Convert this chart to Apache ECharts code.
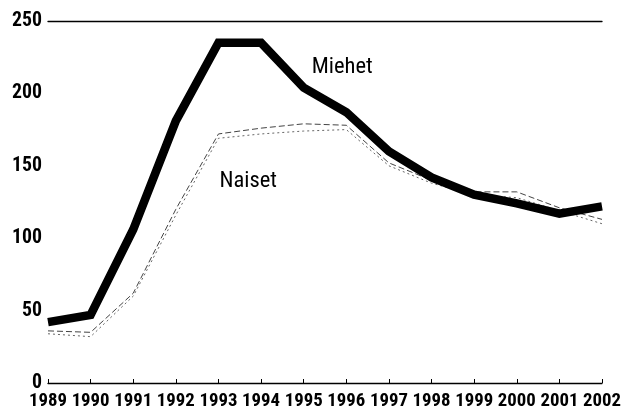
<!DOCTYPE html>
<html><head><meta charset="utf-8">
<script src="https://cdn.jsdelivr.net/npm/echarts@6/dist/echarts.min.js"></script>
<style>html,body{margin:0;padding:0;background:#fff}#c{width:633px;height:412px}</style>
</head><body><div id="c"></div>
<script>
var years = ['1989','1990','1991','1992','1993','1994','1995','1996','1997','1998','1999','2000','2001','2002'];
var miehet = [42, 47, 106, 181, 235, 235, 204, 187, 160, 142, 130, 124, 117, 122];
var naisetA = [36, 35, 62, 120, 172, 176, 179, 178, 152, 140, 132, 132, 121, 113];
var naisetB = [34, 32, 60, 116, 169, 172, 174, 175, 150, 138, 130, 128, 119, 110];
var yTicks = [0, 50, 100, 150, 200, 250];

// pick a narrow font if one is installed
var ctx = document.createElement('canvas').getContext('2d');
function w(font, txt) { ctx.font = font; return ctx.measureText(txt).width; }
var candidates = ['Liberation Sans Narrow', 'Roboto Condensed', 'Open Sans Condensed', 'DejaVu Sans Condensed', 'Liberation Sans'];
var FAM = 'Liberation Sans';
for (var i = 0; i < candidates.length; i++) {
  var c = candidates[i];
  if (w("40px '" + c + "', monospace", 'abcdMWi1989') !== w('40px monospace', 'abcdMWi1989')) { FAM = c; break; }
}
var FONT = "'" + FAM + "', sans-serif";
var xSize = Math.min(22, 20 * 38 / w('bold 20px ' + FONT, '1989'));
var ySize = Math.min(22, 20 * 30 / w('bold 20px ' + FONT, '250'));
var tSize = Math.min(26, 24 * 61 / w('24px ' + FONT, 'Miehet'));

var chart = echarts.init(document.getElementById('c'), null, {renderer: 'canvas'});
chart.setOption({
  animation: false,
  backgroundColor: '#fff',
  grid: {left: 48, right: 31, top: 21, bottom: 29, containLabel: false},
  xAxis: [{
    type: 'category', data: years, boundaryGap: false, position: 'bottom',
    axisLine: {show: true, lineStyle: {color: '#000', width: 1.3}},
    axisTick: {show: true, inside: true, length: 4, lineStyle: {color: '#000'}},
    axisLabel: {color: '#000', fontFamily: FONT, fontWeight: 'bold', fontSize: xSize, margin: 9, interval: 0}
  }, {
    type: 'category', data: years, boundaryGap: false, position: 'top',
    axisLine: {show: true, lineStyle: {color: '#000', width: 1.3}},
    axisTick: {show: false}, axisLabel: {show: false}
  }],
  yAxis: {
    type: 'value', min: yTicks[0], max: yTicks[yTicks.length - 1], interval: 50,
    axisLine: {show: false}, axisTick: {show: false}, splitLine: {show: false},
    axisLabel: {color: '#000', fontFamily: FONT, fontWeight: 'bold', fontSize: ySize, margin: 6}
  },
  series: [{
    name: 'Naiset', type: 'line', data: naisetA, symbol: 'none',
    lineStyle: {color: '#444', width: 1, type: [6, 3]}
  }, {
    name: 'Naiset2', type: 'line', data: naisetB, symbol: 'none',
    lineStyle: {color: '#666', width: 1, type: [2, 3]}
  }, {
    name: 'Miehet', type: 'line', data: miehet, symbol: 'none',
    lineStyle: {color: '#000', width: 8.5, join: 'miter'}
  }]
});

var pM = chart.convertToPixel({xAxisIndex: 0, yAxisIndex: 0}, ['1995', 218]);
var pN = chart.convertToPixel({xAxisIndex: 0, yAxisIndex: 0}, ['1993', 139]);
chart.setOption({
  graphic: [
    {type: 'text', x: pM[0] + 8, y: pM[1], style: {text: 'Miehet', font: tSize + 'px ' + FONT, fill: '#000', textVerticalAlign: 'middle'}},
    {type: 'text', x: pN[0] + 1, y: pN[1], style: {text: 'Naiset', font: tSize + 'px ' + FONT, fill: '#000', textVerticalAlign: 'middle'}}
  ]
});
</script></body></html>
